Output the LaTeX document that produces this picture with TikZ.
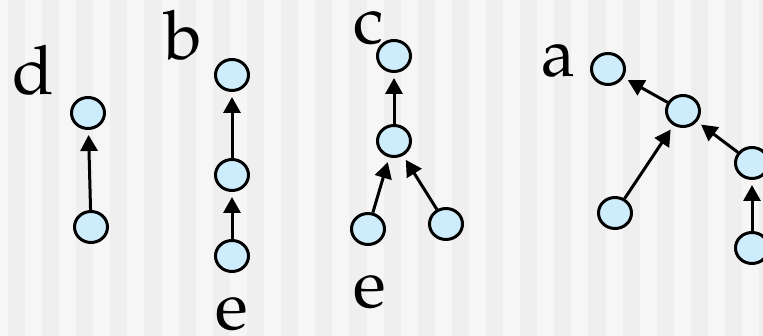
\documentclass[tikz,border=0pt]{standalone}
\usepackage[T1,TU]{fontenc}
\usepackage{tikz}
\usetikzlibrary{arrows.meta, shapes.geometric}

\definecolor{stripedark}{HTML}{EFEFEF}
\definecolor{stripelight}{HTML}{F6F6F6}
\definecolor{vertfill}{HTML}{CDEDFD}

\begin{document}
\begin{tikzpicture}[
  x=1pt, y=-1pt,
  vert/.style={ellipse, draw=black, line width=3pt, fill=vertfill, minimum width=33pt, minimum height=31pt, inner sep=0pt},
  lbl/.style={inner sep=0pt, font=\fontencoding{T1}\fontfamily{ppl}\fontsize{68}{68}\selectfont},
  arrow/.style={-{Triangle[length=16pt, width=17pt]}, line width=3pt, shorten >=5pt}
]
  \useasboundingbox (0,0) rectangle (763,336);
  \clip (0,0) rectangle (763,336);

  % Striped background
  \fill[stripedark] (0,0) rectangle (763,336);
  \foreach \i in {-1,...,21}
    \fill[stripelight] ({25+34.15*\i},0) rectangle ++(17,336);

  % Tree d
  \node[lbl] (labd) at (33, 70) {d};
  \node[vert] (d1) at (88, 113) {};
  \node[vert] (d2) at (91, 227) {};
  \draw[arrow] (d2) -- (d1);

  % Tree b
  \node[lbl] (labb) at (183, 35) {b};
  \node[vert] (b1) at (232, 75) {};
  \node[vert] (b2) at (232, 175) {};
  \node[vert] (b3) at (232, 256) {};
  \node[lbl] (labbe) at (232, 314) {e};
  \draw[arrow] (b2) -- (b1);
  \draw[arrow] (b3) -- (b2);

  % Tree c
  \node[lbl] (labc) at (369, 28) {c};
  \node[vert] (c1) at (394, 56) {};
  \node[vert] (c2) at (394, 141) {};
  \node[vert] (c3) at (368, 229) {};
  \node[vert] (c4) at (446, 224) {};
  \node[lbl] (labce) at (370, 292) {e};
  \draw[arrow] (c2) -- (c1);
  \draw[arrow] (c3) -- (c2);
  \draw[arrow] (c4) -- (c2);

  % Tree a (runs off the right edge)
  \node[lbl] (laba) at (558, 60) {a};
  \node[vert] (a1) at (608, 69) {};
  \node[vert] (a2) at (683, 111) {};
  \node[vert] (a3) at (615, 213) {};
  \node[vert] (a4) at (752, 163) {};
  \node[vert] (a5) at (752, 248) {};
  \draw[arrow] (a2) -- (a1);
  \draw[arrow] (a3) -- (a2);
  \draw[arrow] (a4) -- (a2);
  \draw[arrow] (a5) -- (a4);
\end{tikzpicture}
\end{document}
